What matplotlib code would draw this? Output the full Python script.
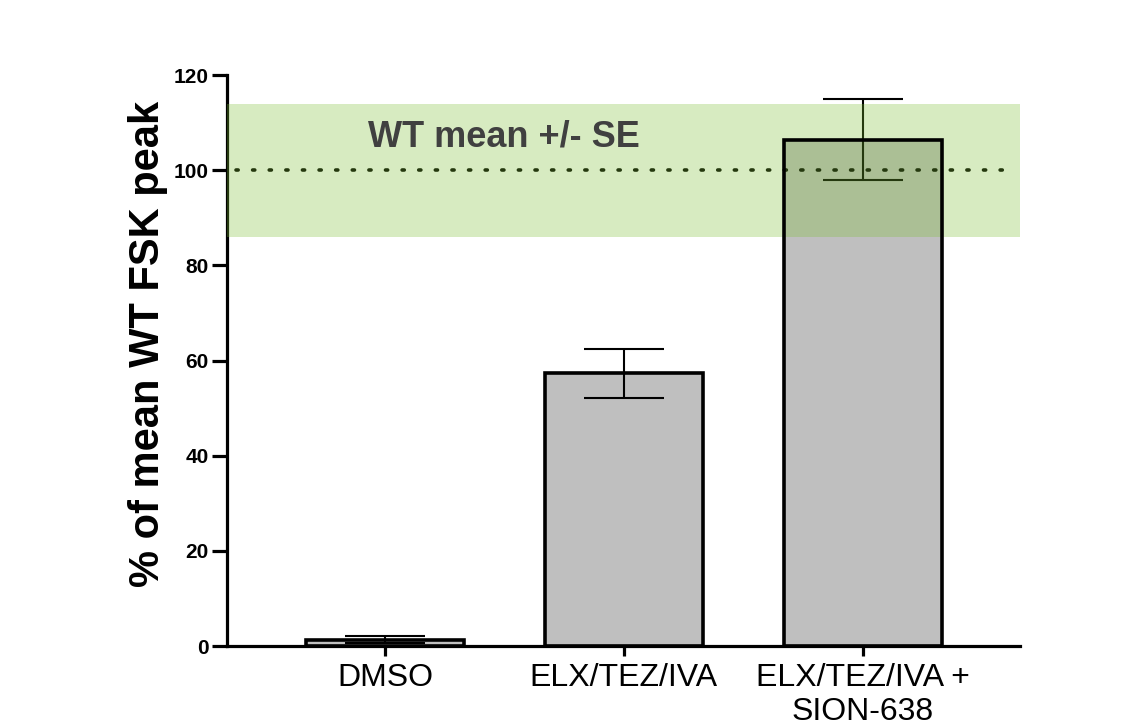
import matplotlib
matplotlib.use('Agg')
import matplotlib.pyplot as plt

plt.rcParams['font.family'] = ['Liberation Sans', 'DejaVu Sans']

# data
categories = ['DMSO', 'ELX/TEZ/IVA', 'ELX/TEZ/IVA +\nSION-638']
means = [1.3, 57.3, 106.4]
sems = [0.7, 5.1, 8.5]
wt_mean = 100
wt_low, wt_high = 86, 114
y_ticks = [0, 20, 40, 60, 80, 100, 120]

fig = plt.figure(figsize=(11.46, 7.27), dpi=100)
ax = fig.add_axes([0.198, 0.1114, 0.692, 0.7854])

x = list(range(len(categories)))

ax.bar(x, means, width=0.66, color='#bfbfbf', edgecolor='none', zorder=1)
ax.errorbar(x, means, yerr=sems, fmt='none', ecolor='black', elinewidth=1.5,
            capsize=29, capthick=1.5, zorder=2)

ax.axhline(wt_mean, xmin=0.012, xmax=0.995, color='black', linestyle=(0, (0.6, 4.0)),
           linewidth=2.6, dash_capstyle='round', zorder=3)
ax.axhspan(wt_low, wt_high, color=(125 / 255, 192 / 255, 52 / 255), alpha=0.3,
           linewidth=0, zorder=4)
# bar outlines stay black on top of the band
ax.bar(x, means, width=0.66, color='none', edgecolor='black', linewidth=2.6, zorder=5)
ax.text(-0.072, 107, 'WT mean +/- SE', fontsize=26, fontweight='bold',
        color='#404040', ha='left', va='center', zorder=6)

ax.set_xlim(-0.661, 2.657)
ax.set_ylim(0, 120)
ax.set_yticks(y_ticks)
ax.set_yticklabels([str(t) for t in y_ticks], fontsize=15, fontweight='bold')
ax.set_xticks(x)
ax.set_xticklabels(categories, fontsize=23)

for side in ['top', 'right']:
    ax.spines[side].set_visible(False)
for side in ['left', 'bottom']:
    ax.spines[side].set_linewidth(2.3)
ax.tick_params(axis='y', length=11, width=2.3, pad=2)
ax.tick_params(axis='x', length=7, width=2.3, pad=5)

ax.set_ylabel('% of mean WT FSK peak', fontsize=30, fontweight='bold')
ax.yaxis.set_label_coords(-0.074, 0.529)

fig.savefig('out.png', dpi=100)
